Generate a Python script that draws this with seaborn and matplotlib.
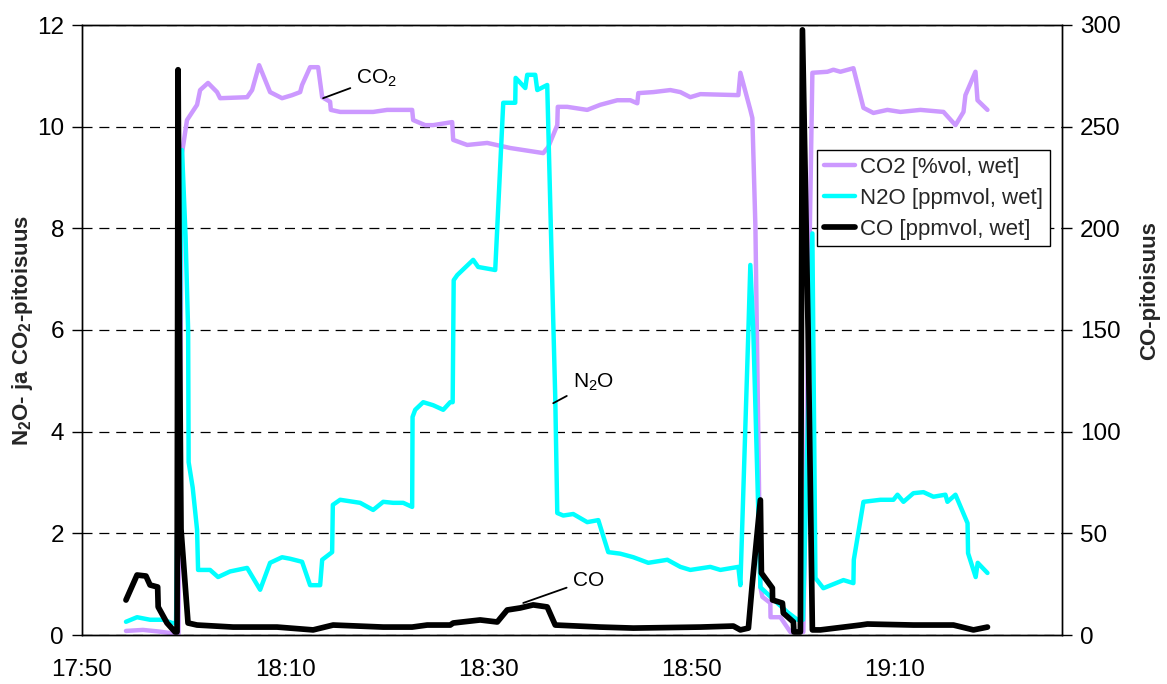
import matplotlib
matplotlib.use("Agg")
import matplotlib.pyplot as plt
import seaborn as sns
from matplotlib.lines import Line2D

# time axis: minutes after 17:50
co2_t = [4.33, 6.0, 7.5, 9.0, 9.5, 9.85, 10.34, 11.33, 11.63, 12.41, 13.3, 13.6, 16.26, 16.75, 17.44,
         18.52, 19.7, 20.69, 21.48, 21.67, 22.46, 23.25, 23.65, 24.43, 24.5, 25.42, 28.67, 30.05,
         32.51, 32.61, 33.79, 34.58, 36.45, 36.55, 37.93, 39.9, 42.17, 45.42, 45.91, 46.8, 46.85,
         47.78, 49.75, 51.03, 52.71, 53.99, 54.68, 54.78, 56.26, 57.93, 58.92, 59.9, 60.89, 64.63,
         64.83, 65.81, 66.01, 66.31, 66.8, 67.0, 67.78, 67.8, 68.77, 69.75, 71.03, 71.92, 73.4,
         73.99, 74.68, 75.96, 76.95, 77.93, 79.31, 80.59, 82.56, 84.83, 86.01, 86.8, 86.99, 87.98,
         88.18, 89.16]
co2_v = [0.08, 0.1, 0.07, 0.03, 0.02, 9.48, 10.13, 10.43, 10.72, 10.86, 10.68, 10.56, 10.58, 10.72, 11.21,
         10.68, 10.56, 10.62, 10.68, 10.82, 11.17, 11.17, 10.58, 10.49, 10.33, 10.29, 10.29, 10.33,
         10.33, 10.13, 10.03, 10.03, 10.09, 9.74, 9.64, 9.68, 9.58, 9.48, 9.6, 10.03, 10.39,
         10.39, 10.33, 10.43, 10.52, 10.52, 10.46, 10.66, 10.68, 10.72, 10.68, 10.58, 10.64, 10.62,
         11.06, 10.33, 10.17, 8.03, 0.94, 0.75, 0.63, 0.35, 0.35, 0.06, 0.06, 11.06, 11.08,
         11.12, 11.08, 11.15, 10.37, 10.27, 10.33, 10.29, 10.33, 10.29, 10.03, 10.29, 10.62, 11.08,
         10.52, 10.33]

n2o_t = [4.33, 5.42, 6.7, 7.98, 8.97, 9.26, 9.85, 10.2, 10.45, 10.5, 10.9, 11.33, 11.43, 12.61, 13.4,
         14.58, 16.26, 17.54, 18.52, 19.7, 20.49, 21.67, 22.46, 23.45, 23.65, 24.63, 24.7, 25.42,
         27.39, 28.67, 29.66, 30.64, 31.63, 32.51, 32.55, 32.81, 33.6, 34.58, 35.57, 36.26, 36.5,
         36.6, 36.95, 38.52, 39.01, 40.69, 41.48, 42.66, 42.7, 43.65, 43.84, 44.63, 44.83, 45.81,
         46.4, 46.6, 46.8, 47.39, 48.37, 49.75, 50.84, 51.82, 53.0, 54.29, 55.76, 57.64, 58.92,
         59.9, 61.87, 62.86, 64.63, 64.83, 65.62, 65.81, 66.1, 66.8, 68.08, 69.46, 70.44, 71.0,
         71.92, 72.22, 73.0, 73.99, 74.98, 75.96, 76.0, 76.95, 78.62, 79.9, 80.3, 80.89, 81.87,
         82.86, 83.84, 85.02, 85.22, 86.01, 87.2, 87.25, 88.0, 88.2, 89.16]
n2o_v = [0.26, 0.35, 0.3, 0.3, 0.23, 0.25, 9.54, 7.83, 6.0, 3.4, 2.9, 2.07, 1.28, 1.28, 1.14,
         1.25, 1.32, 0.89, 1.42, 1.53, 1.5, 1.44, 0.98, 0.98, 1.48, 1.63, 2.56, 2.66,
         2.6, 2.46, 2.62, 2.6, 2.6, 2.52, 4.29, 4.43, 4.58, 4.52, 4.43, 4.58, 4.58,
         6.98, 7.08, 7.38, 7.24, 7.18, 10.47, 10.47, 10.96, 10.76, 11.02, 11.02, 10.72, 10.82,
         6.2, 4.68, 2.4, 2.35, 2.38, 2.22, 2.26, 1.63, 1.6, 1.53, 1.42, 1.48, 1.34,
         1.28, 1.34, 1.28, 1.34, 0.98, 6.0, 7.28, 6.0, 0.94, 0.7, 0.45, 0.3, 0.3,
         7.9, 1.12, 0.92, 1.0, 1.08, 1.02, 1.48, 2.62, 2.66, 2.66, 2.76, 2.62, 2.79,
         2.81, 2.72, 2.76, 2.62, 2.76, 2.2, 1.61, 1.14, 1.42, 1.22]

co_t = [4.33, 5.42, 6.3, 6.7, 7.45, 7.5, 8.37, 9.16, 9.36, 9.46, 9.6, 9.75, 10.44, 11.33, 14.88,
        19.21, 22.76, 24.73, 29.66, 32.51, 33.99, 36.26, 36.55, 39.21, 40.89, 41.87, 43.15, 44.43,
        45.81, 46.6, 51.03, 54.29, 60.89, 64.14, 64.83, 65.62, 66.01, 66.8, 66.9, 67.98, 68.0,
        68.97, 69.06, 70.05, 70.1, 70.74, 70.94, 71.5, 71.92, 72.71, 76.65, 77.34, 81.87, 85.81,
        87.78, 89.16]
co_v = [17.2, 29.5, 29.0, 24.6, 23.6, 13.8, 5.9, 1.5, 1.5, 278.0, 150.0, 52.0, 5.9, 4.9, 3.9,
        3.9, 2.5, 4.9, 3.9, 3.9, 4.9, 4.9, 5.9, 7.4, 6.4, 12.3, 13.3, 14.8,
        13.8, 4.9, 3.9, 3.4, 3.9, 4.4, 2.5, 3.4, 25.6, 66.4, 30.5, 23.1, 17.2,
        15.7, 10.8, 6.4, 1.5, 1.5, 297.6, 150.0, 2.5, 2.5, 4.9, 5.4, 4.9, 4.9,
        2.5, 3.9]

series_names = ["CO2 [%vol, wet]", "N2O [ppmvol, wet]", "CO [ppmvol, wet]"]
series_colors = ["#CC99FF", "#00FFFF", "#000000"]

x_tick_pos = [0, 20, 40, 60, 80]
x_tick_labels = ["17:50", "18:10", "18:30", "18:50", "19:10"]
left_ticks = [0, 2, 4, 6, 8, 10, 12]
right_ticks = [0, 50, 100, 150, 200, 250, 300]

sns.set_theme(style="white")
plt.rcParams["font.family"] = ["Liberation Sans", "DejaVu Sans"]
plt.rcParams["mathtext.fontset"] = "custom"
plt.rcParams["mathtext.rm"] = "Liberation Sans"
plt.rcParams["mathtext.it"] = "Liberation Sans:italic"
plt.rcParams["mathtext.bf"] = "Liberation Sans:bold"

fig = plt.figure(figsize=(11.67, 6.84), dpi=100)
ax = fig.add_axes([82 / 1167, 49 / 684, 980 / 1167, 610 / 684])

lw_main = 3.2
lw_co = 4.1
sns.lineplot(x=co2_t, y=co2_v, ax=ax, color=series_colors[0], lw=lw_main, sort=False,
             estimator=None, solid_joinstyle="round", solid_capstyle="round")
sns.lineplot(x=n2o_t, y=n2o_v, ax=ax, color=series_colors[1], lw=lw_main, sort=False,
             estimator=None, solid_joinstyle="round", solid_capstyle="round")

ax.set_xlim(0, 96.5)
ax.set_ylim(0, 12)
ax.set_xticks(x_tick_pos)
ax.set_xticklabels(x_tick_labels)
ax.set_yticks(left_ticks)
ax.yaxis.grid(True, linestyle=(0, (8, 5.5)), color="black", lw=0.9)
ax.xaxis.grid(False)
ax.set_axisbelow(True)

ax2 = ax.twinx()
sns.lineplot(x=co_t, y=co_v, ax=ax2, color=series_colors[2], lw=lw_co, sort=False,
             estimator=None, solid_joinstyle="round", solid_capstyle="round")
ax2.set_ylim(0, 300)
ax2.set_yticks(right_ticks)
ax2.grid(False)

for a in (ax, ax2):
    for s in a.spines.values():
        s.set_color("black")
        s.set_linewidth(1.0)
    a.tick_params(axis="both", which="major", labelsize=17.5, length=7, width=1,
                  direction="out", colors="black", pad=6)
    a.set_xlabel("")

ax.tick_params(axis="x", pad=10)
ax.set_ylabel(r"N$_\mathbf{2}$O- ja CO$_\mathbf{2}$-pitoisuus", fontsize=16, fontweight="bold")
ax.yaxis.set_label_coords(-0.048, 0.5)
ax2.set_ylabel("CO-pitoisuus", fontsize=16, fontweight="bold")
ax2.yaxis.set_label_coords(1.079, 0.564)

ann_kw = dict(ha="left", va="center", fontsize=15, color="black",
              arrowprops=dict(arrowstyle="-", color="black", lw=1.3, shrinkA=2, shrinkB=0))
ax.annotate("CO$_2$", xy=(23.74, 10.56), xytext=(27.0, 10.95), **ann_kw)
ax.annotate("N$_2$O", xy=(46.4, 4.56), xytext=(48.3, 4.98), **ann_kw)
ax.annotate("CO", xy=(43.45, 0.63), xytext=(48.3, 1.08), **ann_kw)

handles = [Line2D([0], [0], color=series_colors[0], lw=lw_main),
           Line2D([0], [0], color=series_colors[1], lw=lw_main),
           Line2D([0], [0], color=series_colors[2], lw=lw_co)]
leg = ax2.legend(handles, series_names, loc="upper left", bbox_to_anchor=(0.75, 0.795),
                 frameon=True, fancybox=False, edgecolor="black", framealpha=1, fontsize=16,
                 handlelength=1.4, handletextpad=0.25, borderaxespad=0, borderpad=0.3,
                 labelspacing=0.45)
leg.get_frame().set_linewidth(1.0)

fig.savefig("out.png", dpi=100)
